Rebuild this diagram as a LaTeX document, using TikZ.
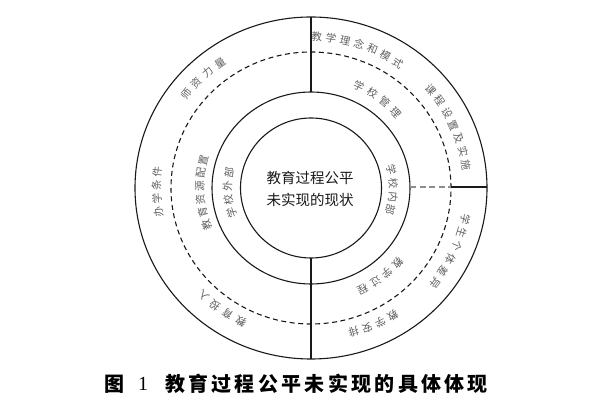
\documentclass[tikz,border=0pt]{standalone}
\usepackage{fontspec}
\setmainfont{Noto Sans CJK SC}
\newfontfamily\numfont{Liberation Serif}
\usetikzlibrary{calc}
\tikzset{
  ring/.style={line width=1.1pt, draw=black!90},
  dashring/.style={line width=1.1pt, draw=black!90, dash pattern=on 5pt off 3.5pt},
  graydash/.style={line width=1.1pt, draw=black!45, dash pattern=on 6pt off 3.5pt},
  ringfont/.style={font=\fontsize{10.5}{10.5}\selectfont, text=black!62, inner sep=0pt},
  centerfont/.style={font=\fontsize{14.5}{22}\selectfont, text=black!90, align=center, inner sep=0pt},
  capfont/.style={font=\fontsize{20}{22}\bfseries\selectfont, text=black, inner sep=0pt},
}
\newcommand\arctext[6]{%
  \foreach \ch [count=\i from 0] in {#6}{%
    \pgfmathsetmacro\ang{#3+((#5-1)/2-\i)*#4}%
    \node[ringfont, rotate=\ang-90] (#1-\i) at (\ang:{1.03*#2} and {#2}) {\ch};
  }}
\begin{document}
\begin{tikzpicture}[x=1pt,y=1pt]
  \fill[white] (0,0) rectangle (600,407);
  \useasboundingbox (0,0) rectangle (600,407);
  \begin{scope}[shift={(311,219)}]
    \coordinate (c) at (0,0);
    % circles
    \draw[ring] (c) ellipse (176 and 171);
    \draw[dashring] (c) ellipse (140 and 136);
    \draw[ring] (c) ellipse (99 and 96);
    \draw[ring] (c) ellipse (70.5 and 70);
    % connector coordinates
    \coordinate (otop) at (0,171);
    \coordinate (stop) at (0,96);
    \coordinate (ibot) at (0,-70);
    \coordinate (obot) at (0,-171);
    \coordinate (sr) at (99,1);
    \coordinate (dr) at (140,1);
    \coordinate (orr) at (176,1);
    \draw[ring] (otop) -- (stop);
    \draw[ring] (ibot) -- (obot);
    \draw[graydash] (sr) -- (dr);
    \draw[ring] (dr) -- (orr);
    % outer ring labels
    \arctext{a}{151}{72}{5.3}{7}{教,学,理,念,和,模,式}
    \arctext{b}{152}{24.4}{5.3}{7}{课,程,设,置,及,实,施}
    \arctext{cc}{153}{-25}{5.3}{6}{学,生,个,体,差,异}
    \arctext{d}{150}{-66}{5.3}{4}{教,学,安,排}
    \arctext{e}{150}{-125.5}{5.7}{4}{教,育,投,入}
    \arctext{f}{150}{181.5}{5.0}{4}{办,学,条,件}
    \arctext{g}{153}{133.7}{5.7}{4}{师,资,力,量}
    % middle ring labels
    \arctext{h}{112}{54}{7.7}{4}{学,校,管,理}
    \arctext{i}{113}{-52.5}{7.4}{4}{教,学,过,程}
    \arctext{j}{108}{182.6}{7.0}{6}{教,育,资,源,配,置}
    % inner ring labels
    \arctext{k}{81}{183.5}{9.7}{4}{学,校,外,部}
    \arctext{l}{80}{-1.4}{9.7}{4}{学,校,内,部}
    % centre text
    \node[centerfont] (ctext) at (-1,-1) {教育过程公平\\未实现的现状};
  \end{scope}
  % caption
  \node[capfont] (fig) at (114,23) {图};
  \node[font=\fontsize{20}{22}\numfont\selectfont, inner sep=0pt] (num) at (143,23) {1};
  \foreach \ch [count=\i from 0] in {教,育,过,程,公,平,未,实,现,的,具,体,体,现}{%
    \node[capfont] (cap-\i) at (175+\i*23.3,23) {\ch};
  }
\end{tikzpicture}
\end{document}
